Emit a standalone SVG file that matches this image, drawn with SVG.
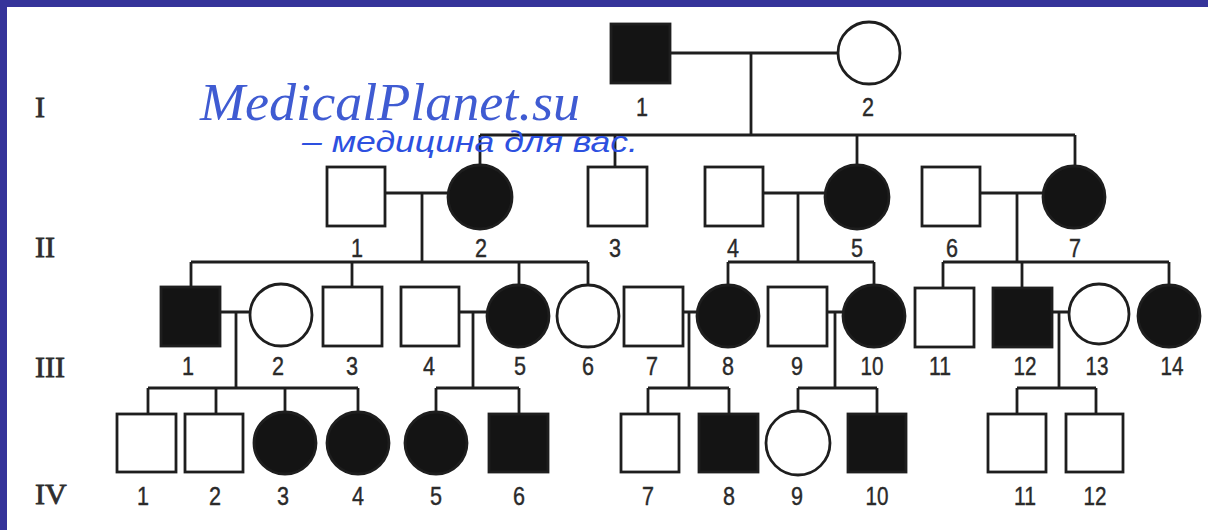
<svg xmlns="http://www.w3.org/2000/svg" width="1208" height="530" viewBox="0 0 1208 530">
<style>
.ln{stroke:#1e1e1e;stroke-width:2.8;fill:none}
.u{fill:#fff;stroke:#1e1e1e;stroke-width:2.8}
.a{fill:#141414;stroke:#1e1e1e;stroke-width:2.8}
.n{font-family:"Liberation Sans",Arial,sans-serif;font-size:26px;fill:#2a2a2a;stroke:#2a2a2a;stroke-width:0.4;text-anchor:middle}
.r{font-family:"Liberation Serif","Times New Roman",serif;font-size:30px;fill:#2e2e2e;stroke:#2e2e2e;stroke-width:0.8}
.w1{font-family:"Liberation Serif","Times New Roman",serif;font-style:italic;font-size:53px;fill:#3f5bd2}
.w2{font-family:"Liberation Sans",Arial,sans-serif;font-style:italic;font-size:30px;fill:#2d50e0}
</style>
<rect x="0" y="0" width="1208" height="530" fill="#fff"/>
<rect x="0" y="0" width="1208" height="7" fill="#35349a"/>
<rect x="0" y="0" width="7" height="530" fill="#35349a"/>

<g id="generations">
<text class="r" x="35" y="117">I</text>
<text class="r" x="35" y="257">II</text>
<text class="r" x="35" y="377">III</text>
<text class="r" x="35" y="504">IV</text>
</g>

<g id="connectors" class="ln">
<path d="M670 53H838M751 53V135M480 135H1075M480 135V165M615 135V167M857 135V165M1075 135V166"/>
<path d="M385 193H448M422 193V262M763 193H825M798 193V262M980 193H1043M1017 193V262"/>
<path d="M191 262H588M191 262V287M352 262V287M519 262V285M588 262V285"/>
<path d="M728 262H874M728 262V285M874 262V285"/>
<path d="M943 262H1169M943 262V288M1022 262V288M1169 262V285"/>
<path d="M220 312H250M236 312V388M459 312H487M473 312V388M683 312H697M689 312V388M827 312H843M835 312V388M1052 312H1069M1059 312V388"/>
<path d="M148 388H358M148 388V414M216 388V414M285 388V412M358 388V412"/>
<path d="M436 388H519M436 388V412M519 388V414"/>
<path d="M648 388H729M648 388V414M729 388V414"/>
<path d="M798 388H877M798 388V411M877 388V414"/>
<path d="M1017 388H1096M1017 388V414M1096 388V414"/>
</g>

<g id="I-1"><rect class="a" x="611" y="24" width="59" height="59"/><text class="n" x="642" y="116" textLength="12" lengthAdjust="spacingAndGlyphs">1</text></g>
<g id="I-2"><circle class="u" cx="869" cy="53" r="31"/><text class="n" x="868" y="116" textLength="12" lengthAdjust="spacingAndGlyphs">2</text></g>

<g id="II-1"><rect class="u" x="327" y="167" width="58" height="59"/><text class="n" x="357" y="257" textLength="12" lengthAdjust="spacingAndGlyphs">1</text></g>
<g id="II-2"><circle class="a" cx="480" cy="197" r="32"/><text class="n" x="481" y="257" textLength="12" lengthAdjust="spacingAndGlyphs">2</text></g>
<g id="II-3"><rect class="u" x="588" y="167" width="59" height="59"/><text class="n" x="615" y="257" textLength="12" lengthAdjust="spacingAndGlyphs">3</text></g>
<g id="II-4"><rect class="u" x="705" y="167" width="58" height="59"/><text class="n" x="733" y="257" textLength="12" lengthAdjust="spacingAndGlyphs">4</text></g>
<g id="II-5"><circle class="a" cx="857" cy="197" r="32"/><text class="n" x="857" y="257" textLength="12" lengthAdjust="spacingAndGlyphs">5</text></g>
<g id="II-6"><rect class="u" x="922" y="167" width="58" height="59"/><text class="n" x="952" y="257" textLength="12" lengthAdjust="spacingAndGlyphs">6</text></g>
<g id="II-7"><circle class="a" cx="1074" cy="197" r="31"/><text class="n" x="1075" y="257" textLength="12" lengthAdjust="spacingAndGlyphs">7</text></g>

<g id="III-1"><rect class="a" x="161" y="287" width="59" height="59"/><text class="n" x="188" y="375" textLength="12" lengthAdjust="spacingAndGlyphs">1</text></g>
<g id="III-2"><circle class="u" cx="281" cy="315" r="31"/><text class="n" x="278" y="375" textLength="12" lengthAdjust="spacingAndGlyphs">2</text></g>
<g id="III-3"><rect class="u" x="323" y="287" width="59" height="59"/><text class="n" x="352" y="375" textLength="12" lengthAdjust="spacingAndGlyphs">3</text></g>
<g id="III-4"><rect class="u" x="401" y="287" width="58" height="59"/><text class="n" x="429" y="375" textLength="12" lengthAdjust="spacingAndGlyphs">4</text></g>
<g id="III-5"><circle class="a" cx="518" cy="316" r="31"/><text class="n" x="520" y="375" textLength="12" lengthAdjust="spacingAndGlyphs">5</text></g>
<g id="III-6"><circle class="u" cx="588" cy="316" r="31"/><text class="n" x="588" y="375" textLength="12" lengthAdjust="spacingAndGlyphs">6</text></g>
<g id="III-7"><rect class="u" x="624" y="287" width="59" height="59"/><text class="n" x="652" y="375" textLength="12" lengthAdjust="spacingAndGlyphs">7</text></g>
<g id="III-8"><circle class="a" cx="728" cy="316" r="31"/><text class="n" x="728" y="375" textLength="12" lengthAdjust="spacingAndGlyphs">8</text></g>
<g id="III-9"><rect class="u" x="768" y="287" width="59" height="59"/><text class="n" x="797" y="375" textLength="12" lengthAdjust="spacingAndGlyphs">9</text></g>
<g id="III-10"><circle class="a" cx="874" cy="316" r="31"/><text class="n" x="872" y="375" textLength="23" lengthAdjust="spacingAndGlyphs">10</text></g>
<g id="III-11"><rect class="u" x="915" y="288" width="59" height="59"/><text class="n" x="940" y="375" textLength="22" lengthAdjust="spacingAndGlyphs">11</text></g>
<g id="III-12"><rect class="a" x="993" y="288" width="59" height="59"/><text class="n" x="1025" y="375" textLength="23" lengthAdjust="spacingAndGlyphs">12</text></g>
<g id="III-13"><circle class="u" cx="1099" cy="314" r="30"/><text class="n" x="1097" y="375" textLength="23" lengthAdjust="spacingAndGlyphs">13</text></g>
<g id="III-14"><circle class="a" cx="1169" cy="316" r="31"/><text class="n" x="1172" y="375" textLength="23" lengthAdjust="spacingAndGlyphs">14</text></g>

<g id="IV-1"><rect class="u" x="117" y="414" width="59" height="58"/><text class="n" x="143" y="505" textLength="12" lengthAdjust="spacingAndGlyphs">1</text></g>
<g id="IV-2"><rect class="u" x="185" y="414" width="58" height="58"/><text class="n" x="215" y="505" textLength="12" lengthAdjust="spacingAndGlyphs">2</text></g>
<g id="IV-3"><circle class="a" cx="285" cy="443" r="31"/><text class="n" x="283" y="505" textLength="12" lengthAdjust="spacingAndGlyphs">3</text></g>
<g id="IV-4"><circle class="a" cx="358" cy="443" r="31"/><text class="n" x="358" y="505" textLength="12" lengthAdjust="spacingAndGlyphs">4</text></g>
<g id="IV-5"><circle class="a" cx="436" cy="443" r="31"/><text class="n" x="436" y="505" textLength="12" lengthAdjust="spacingAndGlyphs">5</text></g>
<g id="IV-6"><rect class="a" x="489" y="414" width="59" height="58"/><text class="n" x="519" y="505" textLength="12" lengthAdjust="spacingAndGlyphs">6</text></g>
<g id="IV-7"><rect class="u" x="621" y="414" width="58" height="58"/><text class="n" x="648" y="505" textLength="12" lengthAdjust="spacingAndGlyphs">7</text></g>
<g id="IV-8"><rect class="a" x="699" y="414" width="59" height="58"/><text class="n" x="729" y="505" textLength="12" lengthAdjust="spacingAndGlyphs">8</text></g>
<g id="IV-9"><circle class="u" cx="798" cy="443" r="32"/><text class="n" x="797" y="505" textLength="12" lengthAdjust="spacingAndGlyphs">9</text></g>
<g id="IV-10"><rect class="a" x="848" y="414" width="58" height="58"/><text class="n" x="877" y="505" textLength="23" lengthAdjust="spacingAndGlyphs">10</text></g>
<g id="IV-11"><rect class="u" x="988" y="414" width="58" height="58"/><text class="n" x="1025" y="505" textLength="22" lengthAdjust="spacingAndGlyphs">11</text></g>
<g id="IV-12"><rect class="u" x="1066" y="414" width="57" height="58"/><text class="n" x="1095" y="505" textLength="23" lengthAdjust="spacingAndGlyphs">12</text></g>

<g id="watermark">
<text class="w1" x="200" y="120" textLength="380" lengthAdjust="spacingAndGlyphs">MedicalPlanet.su</text>
<text class="w2" x="302" y="152" textLength="336" lengthAdjust="spacingAndGlyphs">– медицина для вас.</text>
</g>
</svg>
